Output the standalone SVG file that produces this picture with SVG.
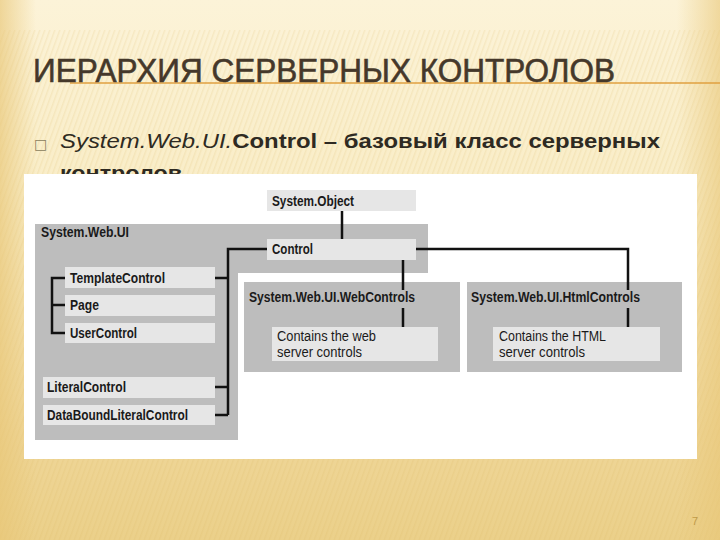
<svg xmlns="http://www.w3.org/2000/svg" width="720" height="540" viewBox="0 0 720 540">
<defs>
<linearGradient id="bg" x1="0" y1="0" x2="0" y2="1">
<stop offset="0" stop-color="#fcf3d8"/>
<stop offset="0.35" stop-color="#f9edc7"/>
<stop offset="0.8" stop-color="#efd698"/>
<stop offset="1" stop-color="#ebd08a"/>
</linearGradient>
<linearGradient id="side" x1="0" y1="0" x2="1" y2="0">
<stop offset="0" stop-color="#e8c676" stop-opacity="0.65"/>
<stop offset="0.05" stop-color="#e8c676" stop-opacity="0"/>
<stop offset="0.94" stop-color="#e8c676" stop-opacity="0"/>
<stop offset="1" stop-color="#e8c676" stop-opacity="0.6"/>
</linearGradient>
<pattern id="stripes" width="5" height="20" patternUnits="userSpaceOnUse" patternTransform="skewX(-20)">
<rect x="0" y="0" width="1.5" height="20" fill="#d8b660" opacity="0.16"/>
</pattern>
<style>
.lbl{font-family:"Liberation Sans",Arial,sans-serif;font-weight:bold;font-size:14px;fill:#1a1a1a}
.txt{font-family:"Liberation Sans",Arial,sans-serif;font-size:14px;fill:#1a1a1a}
.outer{fill:#bdbdbd}
.inner{fill:#e6e6e6}
.conn{fill:none;stroke:#111;stroke-width:2.5}
</style>
</defs>
<rect x="0" y="0" width="720" height="540" fill="url(#bg)"/>
<rect x="0" y="30" width="720" height="510" fill="url(#stripes)"/>
<rect x="0" y="0" width="720" height="540" fill="url(#side)"/>
<line x1="70" y1="83" x2="720" y2="83" stroke="#e0a040" stroke-width="1.5"/>
<text x="33" y="82" font-family="'Liberation Sans',Arial,sans-serif" font-size="33" fill="#45382a" stroke="#45382a" stroke-width="0.6" textLength="582" lengthAdjust="spacingAndGlyphs">ИЕРАРХИЯ СЕРВЕРНЫХ КОНТРОЛОВ</text>
<text x="34" y="149" font-family="'DejaVu Sans',sans-serif" font-size="14" fill="#8a7c5c">□</text>
<text x="60" y="148" font-family="'Liberation Sans',Arial,sans-serif" font-size="21" fill="#2e2a22" textLength="600" lengthAdjust="spacingAndGlyphs"><tspan font-style="italic">System.Web.UI.</tspan><tspan font-weight="bold">Control – базовый класс серверных</tspan></text>
<text x="60" y="180" font-family="'Liberation Sans',Arial,sans-serif" font-size="21" font-weight="bold" fill="#2e2a22" textLength="122" lengthAdjust="spacingAndGlyphs">контролов</text>
<rect x="24" y="174" width="673" height="285" fill="#ffffff"/>

<g id="ns-web-ui">
<path class="outer" d="M35 224 H428 V273 H238 V440 H35 Z"/>
<text class="lbl" x="41" y="237" textLength="88" lengthAdjust="spacingAndGlyphs">System.Web.UI</text>
</g>
<g id="ns-webcontrols">
<rect class="outer" x="244" y="282" width="216" height="90"/>
<text class="lbl" x="249" y="302" textLength="166" lengthAdjust="spacingAndGlyphs">System.Web.UI.WebControls</text>
</g>
<g id="ns-htmlcontrols">
<rect class="outer" x="467" y="282" width="215" height="90"/>
<text class="lbl" x="471" y="302" textLength="169" lengthAdjust="spacingAndGlyphs">System.Web.UI.HtmlControls</text>
</g>
<g id="system-object">
<rect class="inner" x="267" y="190" width="149" height="21"/>
<text class="lbl" x="272" y="206" textLength="82" lengthAdjust="spacingAndGlyphs">System.Object</text>
</g>
<g id="control">
<rect class="inner" x="267" y="239" width="149" height="21"/>
<text class="lbl" x="272" y="254" textLength="41" lengthAdjust="spacingAndGlyphs">Control</text>
</g>
<g id="template-control">
<rect class="inner" x="65" y="267" width="150" height="21"/>
<text class="lbl" x="70" y="283" textLength="95" lengthAdjust="spacingAndGlyphs">TemplateControl</text>
</g>
<g id="page">
<rect class="inner" x="65" y="295" width="150" height="21"/>
<text class="lbl" x="70" y="310" textLength="29" lengthAdjust="spacingAndGlyphs">Page</text>
</g>
<g id="user-control">
<rect class="inner" x="65" y="323" width="150" height="20"/>
<text class="lbl" x="70" y="338" textLength="67" lengthAdjust="spacingAndGlyphs">UserControl</text>
</g>
<g id="literal-control">
<rect class="inner" x="43" y="377" width="172" height="21"/>
<text class="lbl" x="47" y="392" textLength="79" lengthAdjust="spacingAndGlyphs">LiteralControl</text>
</g>
<g id="databound-literal-control">
<rect class="inner" x="43" y="405" width="172" height="20"/>
<text class="lbl" x="47" y="420" textLength="141" lengthAdjust="spacingAndGlyphs">DataBoundLiteralControl</text>
</g>
<g id="web-server-controls">
<rect class="inner" x="272" y="327" width="166" height="34"/>
<text class="txt" x="277" y="341" textLength="99" lengthAdjust="spacingAndGlyphs">Contains the web</text>
<text class="txt" x="277" y="357" textLength="85" lengthAdjust="spacingAndGlyphs">server controls</text>
</g>
<g id="html-server-controls">
<rect class="inner" x="493" y="327" width="167" height="34"/>
<text class="txt" x="499" y="341" textLength="107" lengthAdjust="spacingAndGlyphs">Contains the HTML</text>
<text class="txt" x="499" y="357" textLength="86" lengthAdjust="spacingAndGlyphs">server controls</text>
</g>

<g id="connectors">
<path class="conn" d="M342 211 V239"/>
<path class="conn" d="M267 249 H228 V415"/>
<path class="conn" d="M215 278 H228 M215 387 H228 M215 415 H228"/>
<path class="conn" d="M65 278 H52 V333 H65 M52 305 H65"/>
<path class="conn" d="M403 260 V290 M403 308 V327"/>
<path class="conn" d="M416 249 H628 V290 M628 308 V327"/>
</g>

<text x="692" y="525" font-family="'Liberation Sans',Arial,sans-serif" font-size="11" fill="#c09a48">7</text>
</svg>
